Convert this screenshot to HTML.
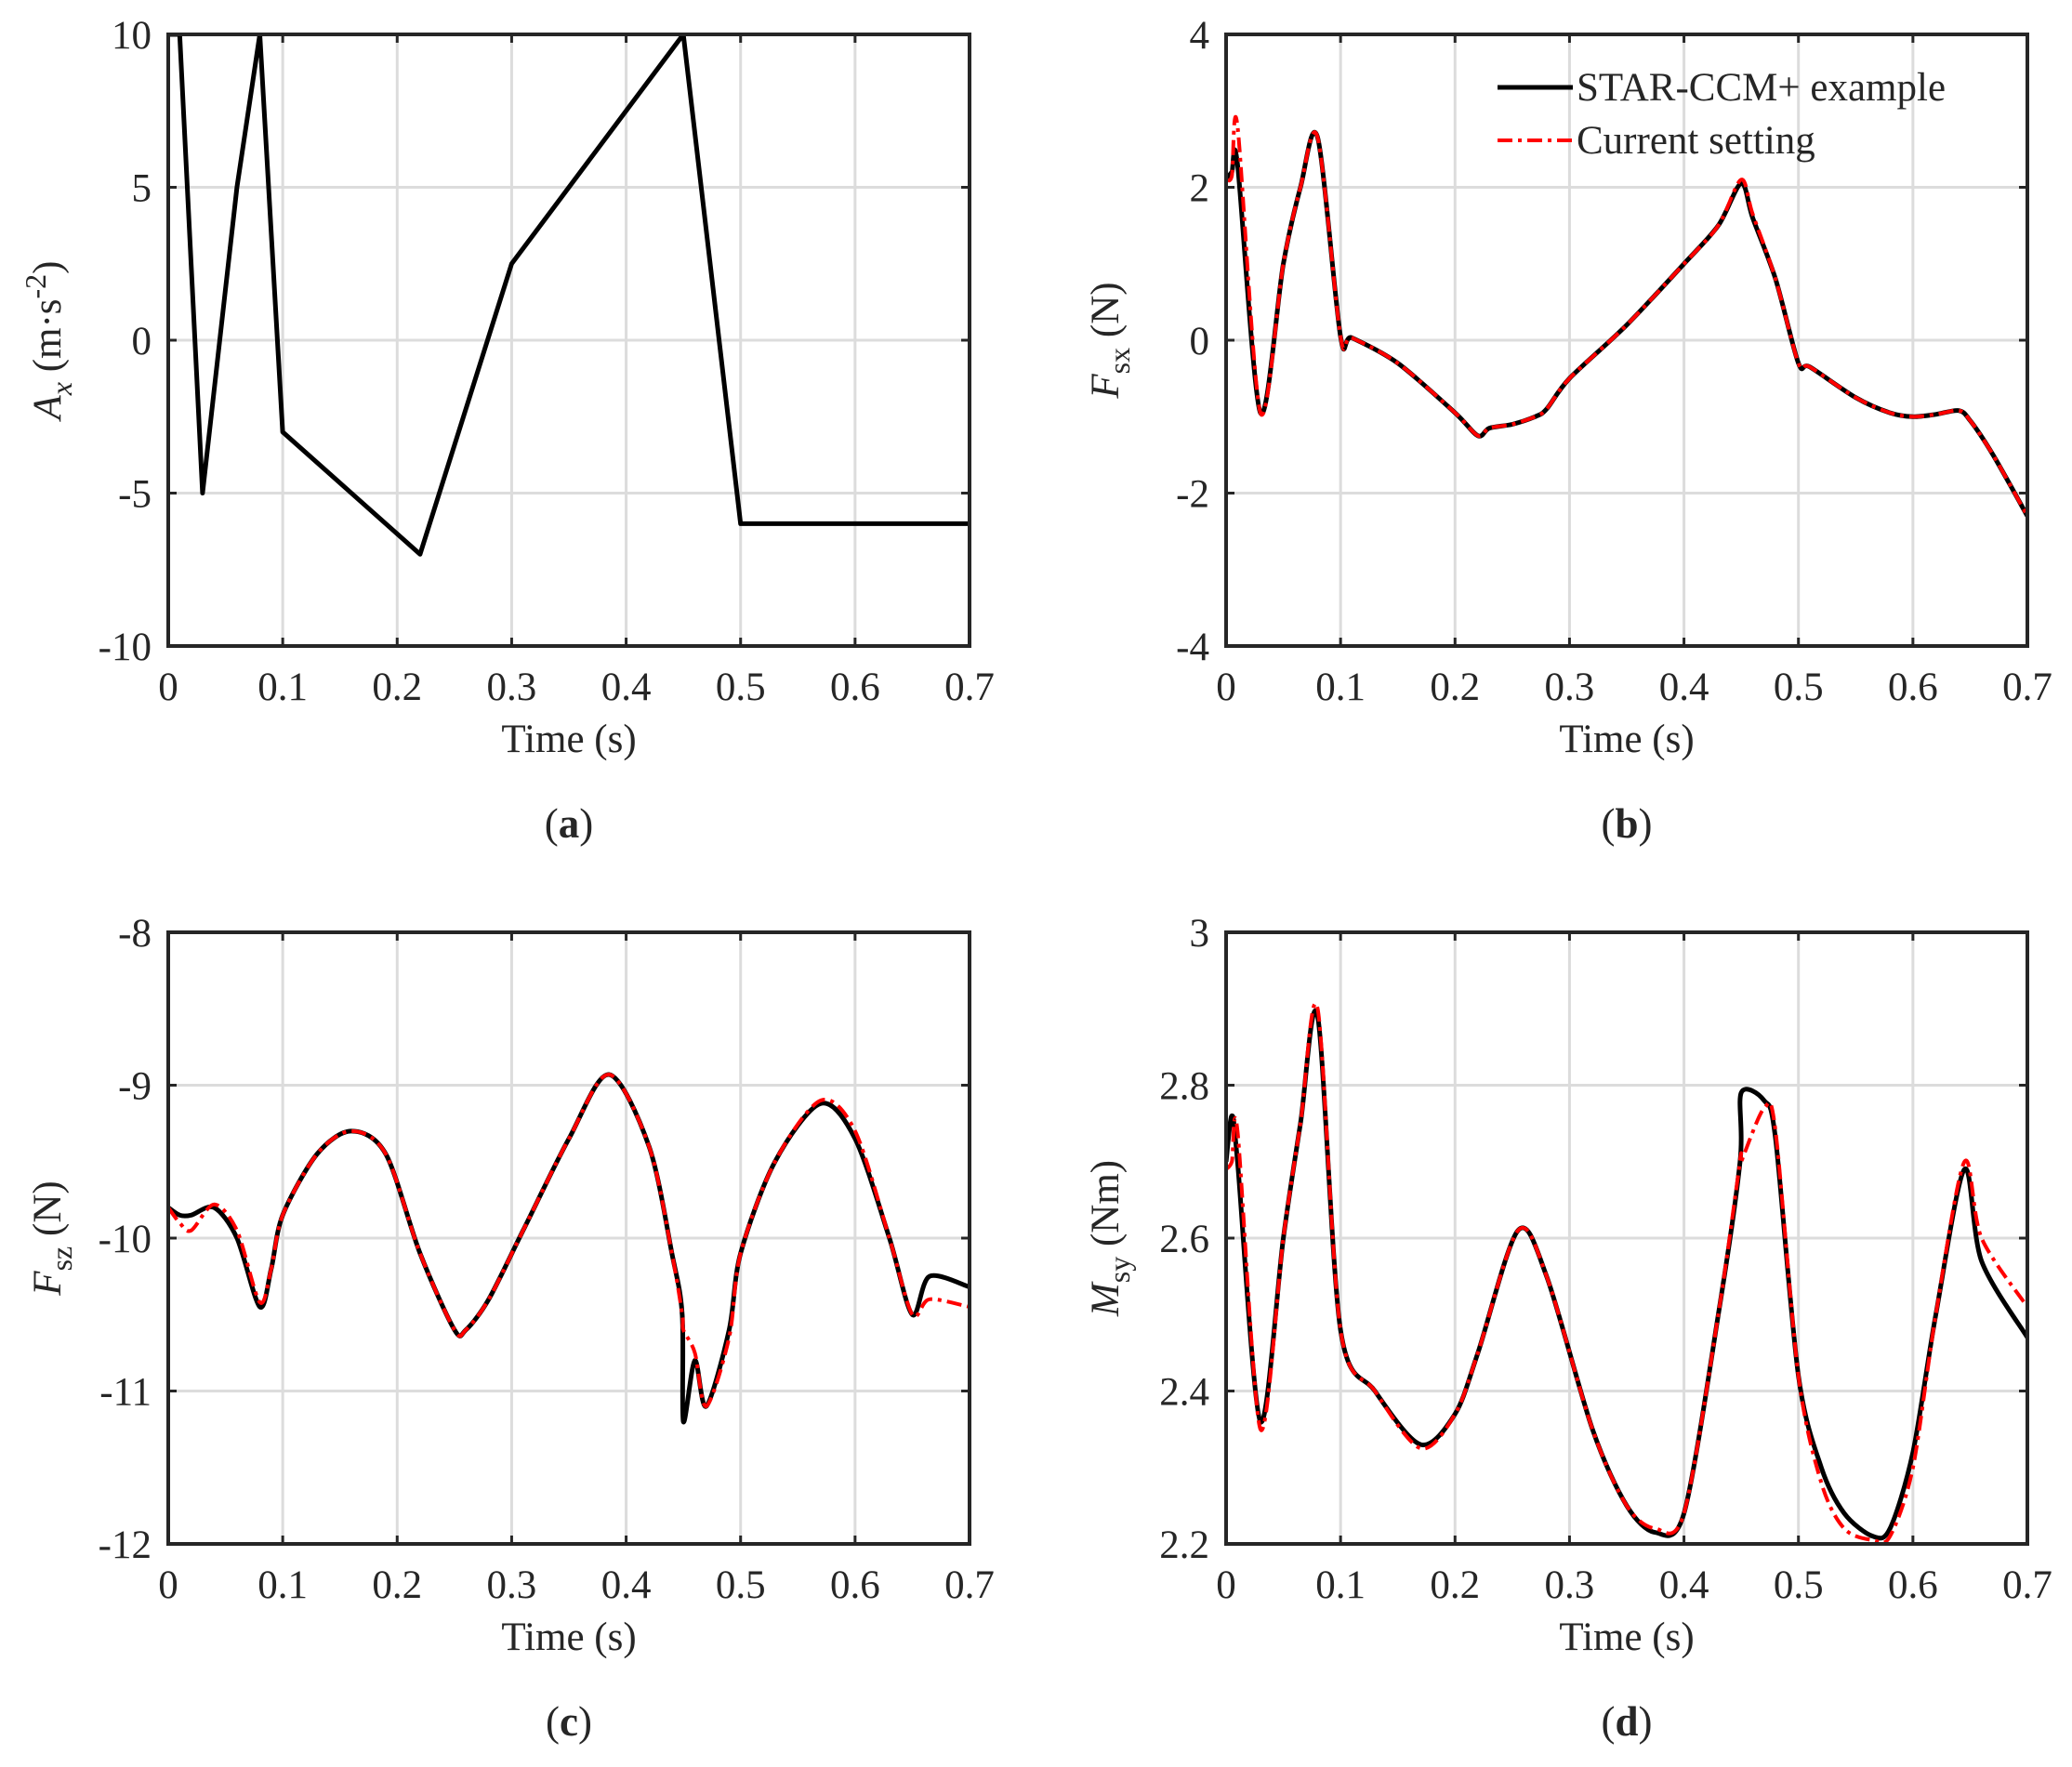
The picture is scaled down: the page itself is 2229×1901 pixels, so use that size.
<!DOCTYPE html>
<html><head><meta charset="utf-8"><style>
body{margin:0;background:#fff}
svg{display:block}
text{font-family:"Liberation Serif","DejaVu Serif",serif;fill:#262626}
</style></head><body>
<svg id="fig" width="2229" height="1901" viewBox="0 0 2229 1901" xmlns="http://www.w3.org/2000/svg"></svg>
<script>
// Panel (a)
const aT=[0,0.01,0.03,0.06,0.08,0.1,0.22,0.3,0.45,0.5,0.7];
const aV=[10,10,-5,5,10,-3,-7,2.5,10,-6,-6];
// Panel (b)
const bT=[0,0.005,0.01,0.03,0.05,0.065,0.08,0.1,0.11,0.15,0.2,0.22,0.23,0.25,0.27,0.28,0.3,0.35,0.4,0.43,0.45,0.46,0.48,0.5,0.51,0.55,0.58,0.6,0.62,0.64,0.65,0.67,0.7];
const bBlack=[2.1,2.2,2.3,-0.95,1.0,2.0,2.65,0.05,0.03,-0.3,-0.95,-1.25,-1.15,-1.1,-1.0,-0.9,-0.5,0.2,1.0,1.5,2.05,1.6,0.8,-0.3,-0.35,-0.75,-0.95,-1.0,-0.97,-0.92,-1.05,-1.5,-2.3];
const bRed=[2.1,2.15,2.8,-0.95,1.0,2.0,2.65,0.05,0.03,-0.3,-0.95,-1.25,-1.15,-1.1,-1.0,-0.9,-0.5,0.2,1.0,1.5,2.1,1.65,0.8,-0.3,-0.35,-0.75,-0.95,-1.0,-0.97,-0.92,-1.05,-1.5,-2.3];
// Panel (c)
const cT=[0,0.01,0.02,0.04,0.06,0.08,0.09,0.1,0.13,0.16,0.19,0.22,0.25,0.26,0.28,0.31,0.35,0.385,0.42,0.44,0.449,0.45,0.46,0.47,0.49,0.5,0.53,0.57,0.6,0.63,0.65,0.665,0.7];
const cBlack=[-9.8,-9.85,-9.85,-9.8,-10.0,-10.45,-10.2,-9.85,-9.45,-9.3,-9.45,-10.1,-10.6,-10.6,-10.4,-9.95,-9.35,-8.93,-9.4,-10.1,-10.5,-11.2,-10.8,-11.1,-10.6,-10.1,-9.5,-9.12,-9.35,-10.0,-10.5,-10.25,-10.32];
const cRed=[-9.8,-9.9,-9.95,-9.78,-9.95,-10.42,-10.2,-9.85,-9.45,-9.3,-9.45,-10.1,-10.6,-10.6,-10.4,-9.95,-9.35,-8.93,-9.4,-10.1,-10.5,-10.6,-10.75,-11.1,-10.65,-10.1,-9.5,-9.1,-9.3,-10.0,-10.5,-10.4,-10.45];
// Panel (d)
const dT=[0,0.005,0.01,0.03,0.05,0.065,0.08,0.1,0.13,0.17,0.2,0.22,0.255,0.28,0.32,0.35,0.375,0.4,0.43,0.449,0.45,0.47,0.48,0.5,0.52,0.54,0.565,0.58,0.6,0.62,0.645,0.66,0.7];
const dBlack=[2.70,2.76,2.7,2.36,2.6,2.75,2.89,2.48,2.40,2.33,2.37,2.45,2.61,2.55,2.35,2.25,2.215,2.24,2.5,2.7,2.79,2.78,2.73,2.42,2.3,2.24,2.21,2.22,2.32,2.5,2.69,2.57,2.47];
const dRed=[2.69,2.70,2.74,2.35,2.6,2.75,2.9,2.48,2.40,2.325,2.37,2.45,2.61,2.55,2.35,2.25,2.22,2.24,2.5,2.7,2.7,2.77,2.74,2.42,2.28,2.22,2.205,2.21,2.3,2.5,2.7,2.6,2.51];
const xTicks=[0,0.1,0.2,0.3,0.4,0.5,0.6,0.7];
const xTickLabels=["0","0.1","0.2","0.3","0.4","0.5","0.6","0.7"];
const aTicks=[-10,-5,0,5,10];
const bTicks=[-4,-2,0,2,4];
const cTicks=[-12,-11,-10,-9,-8];
const dTicks=[2.2,2.4,2.6,2.8,3];
const dTickLabels=["2.2","2.4","2.6","2.8","3"];

const NS="http://www.w3.org/2000/svg";
const svg=document.getElementById('fig');
function mk(tag,attrs,parent){const e=document.createElementNS(NS,tag);for(const k in attrs)e.setAttribute(k,attrs[k]);(parent||svg).appendChild(e);return e;}
function smoothPath(P){
  let d='M'+P[0][0].toFixed(1)+','+P[0][1].toFixed(1);
  for(let i=0;i<P.length-1;i++){
    const p0=P[Math.max(0,i-1)],p1=P[i],p2=P[i+1],p3=P[Math.min(P.length-1,i+2)];
    const k=0.15;
    const c1=[p1[0]+(p2[0]-p0[0])*k,p1[1]+(p2[1]-p0[1])*k];
    const c2=[p2[0]-(p3[0]-p1[0])*k,p2[1]-(p3[1]-p1[1])*k];
    d+='C'+c1[0].toFixed(1)+','+c1[1].toFixed(1)+' '+c2[0].toFixed(1)+','+c2[1].toFixed(1)+' '+p2[0].toFixed(1)+','+p2[1].toFixed(1);
  }
  return d;
}
const W=862,H=658;
function panel(id,x0,y0,yTicks,yLabels,series,ylab,letter){
  const g=mk('g',{});
  
  
  const ymin=yTicks[0],ymax=yTicks[yTicks.length-1];
  const sx=t=>x0+t/0.7*W, sy=v=>y0+H-(v-ymin)/(ymax-ymin)*H;
  xTicks.forEach((t,i)=>{
    const gl=mk('line',{x1:sx(t),x2:sx(t),y1:y0,y2:y0+H,stroke:'#dcdcdc','stroke-width':3},g);
    
    mk('line',{x1:sx(t),x2:sx(t),y1:y0+H,y2:y0+H-9,stroke:'#262626','stroke-width':3},g);
    mk('line',{x1:sx(t),x2:sx(t),y1:y0,y2:y0+9,stroke:'#262626','stroke-width':3},g);
    const tx=mk('text',{x:sx(t),y:y0+H+58,'font-size':43,'text-anchor':'middle'},g);
    tx.textContent=xTickLabels[i];
    
  });
  yTicks.forEach((v,i)=>{
    const gl=mk('line',{x1:x0,x2:x0+W,y1:sy(v),y2:sy(v),stroke:'#dcdcdc','stroke-width':3},g);
    
    mk('line',{x1:x0,x2:x0+9,y1:sy(v),y2:sy(v),stroke:'#262626','stroke-width':3},g);
    mk('line',{x1:x0+W,x2:x0+W-9,y1:sy(v),y2:sy(v),stroke:'#262626','stroke-width':3},g);
    const tx=mk('text',{x:x0-18,y:sy(v)+15,'font-size':43,'text-anchor':'end'},g);
    tx.textContent=yLabels[i];
    
  });
  const cp=mk('clipPath',{id:'clip'+id},g);
  mk('rect',{x:x0,y:y0,width:W,height:H},cp);
  series.forEach(s=>{
    const P=s.t.map((t,i)=>[sx(t),sy(s.v[i])]);
    const d=s.smooth?smoothPath(P):P.map((p,i)=>(i?'L':'M')+p[0].toFixed(1)+','+p[1].toFixed(1)).join('');
    const p=mk('path',{d:d,fill:'none',stroke:s.c,'stroke-width':s.w,'stroke-dasharray':s.dash||'none','stroke-linejoin':'round','clip-path':'url(#clip'+id+')'},g);
    
  });
  const fr=mk('rect',{x:x0,y:y0,width:W,height:H,fill:'none',stroke:'#262626','stroke-width':4},g);
  
  const xl=mk('text',{x:x0+W/2,y:y0+H+114,'font-size':43,'text-anchor':'middle'},g);
  xl.textContent='Time (s)';
  
  const yl=mk('text',{x:0,y:0,'font-size':43,'text-anchor':'middle',transform:'translate('+(x0-116)+','+(y0+H/2)+') rotate(-90)'},g);
  yl.innerHTML=ylab;
  
  const lt=mk('text',{x:x0+W/2,y:y0+H+206,'font-size':45,'text-anchor':'middle'},g);
  lt.innerHTML='(<tspan font-weight="bold">'+letter+'</tspan>)';
  
}
const L=181,R=1319,T=37,B=1003;
const red='#ff0000',dash='16,6,4,6';
panel('a',L,T,aTicks,aTicks.map(String),[{t:aT,v:aV,c:'#000',w:5,name:'ax-line'}],'<tspan font-style="italic">A</tspan><tspan font-style="italic" dy="12" font-size="32">x</tspan><tspan dy="-12"> (m·s</tspan><tspan dy="-16" font-size="32">-2</tspan><tspan dy="16">)</tspan>','a');
panel('b',R,T,bTicks,bTicks.map(String),[{t:bT,v:bBlack,c:'#000',w:5,smooth:true,name:'star-ccm-line'},{t:bT,v:bRed,c:red,w:4,dash:dash,smooth:true,name:'current-setting-line'}],'<tspan font-style="italic">F</tspan><tspan dy="12" font-size="32">sx</tspan><tspan dy="-12"> (N)</tspan>','b');
panel('c',L,B,cTicks,cTicks.map(String),[{t:cT,v:cBlack,c:'#000',w:5,smooth:true,name:'star-ccm-line'},{t:cT,v:cRed,c:red,w:4,dash:dash,smooth:true,name:'current-setting-line'}],'<tspan font-style="italic">F</tspan><tspan dy="12" font-size="32">sz</tspan><tspan dy="-12"> (N)</tspan>','c');
panel('d',R,B,dTicks,dTickLabels,[{t:dT,v:dBlack,c:'#000',w:5,smooth:true,name:'star-ccm-line'},{t:dT,v:dRed,c:red,w:4,dash:dash,smooth:true,name:'current-setting-line'}],'<tspan font-style="italic">M</tspan><tspan dy="12" font-size="32">sy</tspan><tspan dy="-12"> (Nm)</tspan>','d');
// legend
const lg=mk('g',{});


const l1=mk('line',{x1:1611,x2:1692,y1:94,y2:94,stroke:'#000','stroke-width':5},lg);

const t1=mk('text',{x:1696,y:108,'font-size':43},lg);t1.textContent='STAR-CCM+ example';

const l2=mk('line',{x1:1611,x2:1692,y1:151,y2:151,stroke:red,'stroke-width':4,'stroke-dasharray':dash},lg);

const t2=mk('text',{x:1696,y:165,'font-size':43},lg);t2.textContent='Current setting';

</script>
</body></html>
